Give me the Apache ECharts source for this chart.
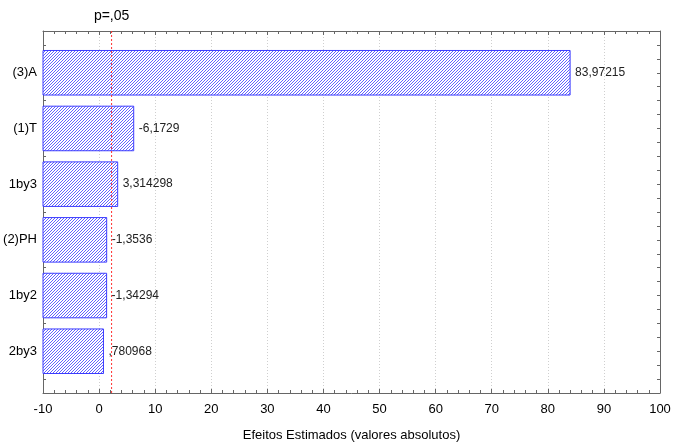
<!DOCTYPE html>
<html>
<head>
<meta charset="utf-8">
<script src="https://cdn.jsdelivr.net/npm/echarts@6/dist/echarts.min.js"></script>
<style>html,body{margin:0;padding:0;background:#fff;}#c{width:673px;height:442px;}</style>
</head>
<body>
<div id="c"></div>
<script>
const categories = ['(3)A', '(1)T', '1by3', '(2)PH', '1by2', '2by3'];
const effects = [83.97215, 6.1729, 3.314298, 1.3536, 1.34294, 0.780968];
const effectLabels = ['83,97215', '-6,1729', '3,314298', '-1,3536', '-1,34294', ',780968'];
const pCritical = 2.228;
const pLabel = 'p=,05';
const xTicks = [-10, 0, 10, 20, 30, 40, 50, 60, 70, 80, 90, 100];
const xMin = -10, xMax = 100;
const yMin = -0.75, yMax = 5.75;

const canvas = document.createElement('canvas');
canvas.width = 3; canvas.height = 3;
const g = canvas.getContext('2d');
g.fillStyle = '#ffffff';
g.fillRect(0, 0, 3, 3);
g.fillStyle = '#6262ff';
g.fillRect(2, 0, 1, 1);
g.fillRect(1, 1, 1, 1);
g.fillRect(0, 2, 1, 1);

const font = 'Liberation Sans, Arial, sans-serif';
const chart = echarts.init(document.getElementById('c'));
const data = effects.map((v, i) => [v, i]);
const axisGrey = '#666';

chart.setOption({
  animation: false,
  backgroundColor: '#fff',
  grid: { left: 43, right: 13, top: 31, bottom: 49, show: false, outerBoundsMode: 'none', containLabel: false },
  xAxis: [
    {
      type: 'value', min: xMin, max: xMax, interval: 10, position: 'bottom',
      name: 'Efeitos Estimados (valores absolutos)', nameLocation: 'middle', nameGap: 36,
      nameTextStyle: { fontFamily: font, fontSize: 13, color: '#000' },
      axisLine: { show: true, onZero: false, lineStyle: { color: axisGrey } },
      axisTick: { show: true, inside: true, length: 4, lineStyle: { color: axisGrey } },
      minorTick: { show: true, splitNumber: 5, length: 3, lineStyle: { color: axisGrey } },
      axisLabel: { fontFamily: font, fontSize: 13, color: '#000', margin: 10,
        formatter: v => xTicks.includes(v) ? String(v) : '' },
      splitLine: { show: true, lineStyle: { color: '#cfcfcf', type: [1, 2] } }
    },
    {
      type: 'value', min: xMin, max: xMax, interval: 10, position: 'top',
      axisLine: { show: true, onZero: false, lineStyle: { color: axisGrey } },
      axisTick: { show: true, inside: true, length: 4, lineStyle: { color: axisGrey } },
      minorTick: { show: true, splitNumber: 5, length: 3, lineStyle: { color: axisGrey } },
      axisLabel: { show: false }, splitLine: { show: false }
    }
  ],
  yAxis: [
    {
      type: 'value', min: yMin, max: yMax, interval: 0.25, inverse: true, position: 'left',
      axisLine: { show: true, onZero: false, lineStyle: { color: axisGrey } },
      axisTick: { show: true, inside: true, length: 3, lineStyle: { color: axisGrey } },
      axisLabel: { fontFamily: font, fontSize: 13, color: '#000', margin: 6,
        formatter: v => { const r = Math.round(v); return Math.abs(v - r) < 1e-6 && r >= 0 && r < categories.length ? categories[r] : ''; } },
      splitLine: { show: false }
    },
    {
      type: 'value', min: yMin, max: yMax, interval: 0.25, inverse: true, position: 'right',
      axisLine: { show: true, onZero: false, lineStyle: { color: axisGrey } },
      axisTick: { show: true, inside: true, length: 3, lineStyle: { color: axisGrey } },
      axisLabel: { show: false }, splitLine: { show: false }
    }
  ],
  series: [
    {
      type: 'custom',
      xAxisIndex: 0, yAxisIndex: 0,
      data: data,
      clip: false,
      z: 2,
      renderItem: function (params, api) {
        const idx = api.value(1);
        const start = api.coord([xMin, idx]);
        const end = api.coord([api.value(0), idx]);
        const h = api.size([0, 1])[1] * 0.8;
        return {
          type: 'group',
          children: [
            { type: 'rect', shape: { x: start[0], y: start[1] - h / 2, width: end[0] - start[0], height: h },
              style: { fill: { image: canvas, repeat: 'repeat' }, stroke: '#3c3cff', lineWidth: 1 } },
            { type: 'text', x: end[0] + 5, y: end[1],
              style: { text: effectLabels[params.dataIndex], fontFamily: font, fontSize: 12, fill: '#222', align: 'left', verticalAlign: 'middle' } }
          ]
        };
      }
    },
    {
      type: 'line',
      xAxisIndex: 0, yAxisIndex: 0,
      data: [[pCritical, yMin], [pCritical, yMax]],
      symbol: 'none',
      z: 3,
      silent: true,
      lineStyle: { color: '#ff3030', width: 1, type: [2, 2] },
      markPoint: {
        symbol: 'circle', symbolSize: 0, silent: true,
        label: { show: true, position: 'top', distance: 8, formatter: pLabel, fontFamily: font, fontSize: 14, color: '#000' },
        data: [{ coord: [pCritical, yMin] }]
      }
    }
  ]
});
</script>
</body>
</html>
